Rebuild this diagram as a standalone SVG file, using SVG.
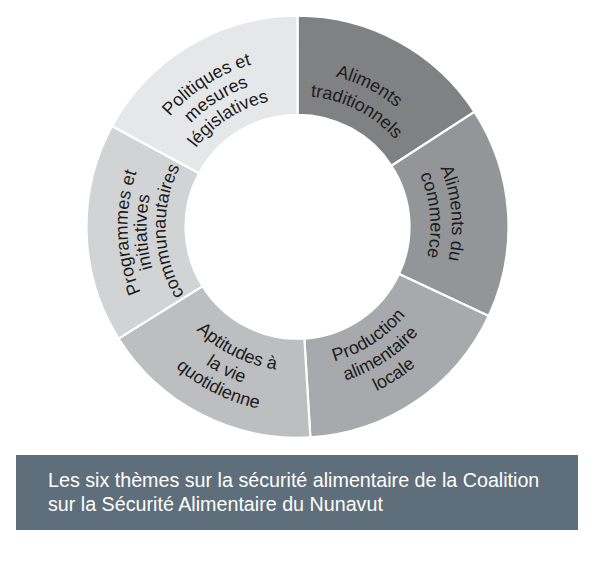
<svg xmlns="http://www.w3.org/2000/svg" xmlns:xlink="http://www.w3.org/1999/xlink" width="599" height="564" viewBox="0 0 599 564">
<style>
.seg{stroke:#ffffff;stroke-width:2.2;stroke-linejoin:miter}
.lbl{font-family:"Liberation Sans",Arial,sans-serif;font-size:18px;fill:#1c1c1c}
.cap{font-family:"Liberation Sans",Arial,sans-serif;font-size:19.7px;fill:#ffffff}
</style>
<defs>
<path id="o168" d="M-129.07,-108.31 A168.5 168.5 0 0 1 129.07,-108.31"/>
<path id="o148" d="M-113.75,-95.46 A148.5 148.5 0 0 1 113.75,-95.46"/>
<path id="o128" d="M-98.43,-82.60 A128.5 128.5 0 0 1 98.43,-82.60"/>
<path id="o155" d="M-118.73,-99.63 A155 155 0 0 1 118.73,-99.63"/>
<path id="o131" d="M-100.35,-84.21 A131 131 0 0 1 100.35,-84.21"/>
<path id="o154" d="M-118.35,-99.31 A154.5 154.5 0 0 1 118.35,-99.31"/>
<path id="o133" d="M-101.88,-85.49 A133 133 0 0 1 101.88,-85.49"/>
<path id="o170" d="M-130.22,-109.28 A170 170 0 0 1 130.22,-109.28"/>
<path id="o151" d="M-115.67,-97.06 A151 151 0 0 1 115.67,-97.06"/>
<path id="o132" d="M-101.11,-84.85 A132 132 0 0 1 101.11,-84.85"/>
<path id="i139" d="M-106.86,89.67 A139.5 139.5 0 0 0 106.86,89.67"/>
<path id="i161" d="M-123.33,103.49 A161 161 0 0 0 123.33,103.49"/>
<path id="i182" d="M-139.80,117.31 A182.5 182.5 0 0 0 139.80,117.31"/>
<path id="i144" d="M-110.69,92.88 A144.5 144.5 0 0 0 110.69,92.88"/>
<path id="i165" d="M-126.77,106.38 A165.5 165.5 0 0 0 126.77,106.38"/>
<path id="i186" d="M-142.48,119.56 A186 186 0 0 0 142.48,119.56"/>
</defs>
<rect width="599" height="564" fill="#ffffff"/>

<g id="aliments-traditionnels">
<path class="seg" fill="#808183" d="M297.5,15.75 A211 211 0 0 1 474.46,111.83 L391.43,165.75 A112 112 0 0 0 297.5,114.75 Z"/>
<text class="lbl" transform="translate(297.5,226.75) rotate(27)"><textPath xlink:href="#o155" href="#o155" startOffset="50%" text-anchor="middle">Aliments</textPath></text>
<text class="lbl" transform="translate(297.5,226.75) rotate(27)"><textPath xlink:href="#o131" href="#o131" startOffset="50%" text-anchor="middle">traditionnels</textPath></text>
</g>

<g id="aliments-du-commerce">
<path class="seg" fill="#939598" d="M474.46,111.83 A211 211 0 0 1 488.73,315.92 L399.01,274.08 A112 112 0 0 0 391.43,165.75 Z"/>
<text class="lbl" transform="translate(297.5,226.75) rotate(85)"><textPath xlink:href="#o154" href="#o154" startOffset="50%" text-anchor="middle">Aliments du</textPath></text>
<text class="lbl" transform="translate(297.5,226.75) rotate(85)"><textPath xlink:href="#o133" href="#o133" startOffset="50%" text-anchor="middle">commerce</textPath></text>
</g>

<g id="production-alimentaire-locale">
<path class="seg" fill="#a7a9ac" d="M488.73,315.92 A211 211 0 0 1 310.38,437.36 L304.34,338.54 A112 112 0 0 0 399.01,274.08 Z"/>
<text class="lbl" transform="translate(297.5,226.75) rotate(-33)"><textPath xlink:href="#i139" href="#i139" startOffset="50%" text-anchor="middle">Production</textPath></text>
<text class="lbl" transform="translate(297.5,226.75) rotate(-33)"><textPath xlink:href="#i161" href="#i161" startOffset="50%" text-anchor="middle">alimentaire</textPath></text>
<text class="lbl" transform="translate(297.5,226.75) rotate(-33)"><textPath xlink:href="#i182" href="#i182" startOffset="50%" text-anchor="middle">locale</textPath></text>
</g>

<g id="aptitudes-vie-quotidienne">
<path class="seg" fill="#bcbec0" d="M310.38,437.36 A211 211 0 0 1 118.56,338.56 L202.52,286.10 A112 112 0 0 0 304.34,338.54 Z"/>
<text class="lbl" transform="translate(297.5,226.75) rotate(26.5)"><textPath xlink:href="#i144" href="#i144" startOffset="50%" text-anchor="middle">Aptitudes à</textPath></text>
<text class="lbl" transform="translate(297.5,226.75) rotate(26.5)"><textPath xlink:href="#i165" href="#i165" startOffset="50%" text-anchor="middle">la vie</textPath></text>
<text class="lbl" transform="translate(297.5,226.75) rotate(26.5)"><textPath xlink:href="#i186" href="#i186" startOffset="50%" text-anchor="middle">quotidienne</textPath></text>
</g>

<g id="programmes-initiatives">
<path class="seg" fill="#d1d3d4" d="M118.56,338.56 A211 211 0 0 1 112.07,126.07 L199.07,173.31 A112 112 0 0 0 202.52,286.10 Z"/>
<text class="lbl" transform="translate(297.5,226.75) rotate(-92)"><textPath xlink:href="#o170" href="#o170" startOffset="50%" text-anchor="middle">Programmes et</textPath></text>
<text class="lbl" transform="translate(297.5,226.75) rotate(-92)"><textPath xlink:href="#o151" href="#o151" startOffset="50%" text-anchor="middle">initiatives</textPath></text>
<text class="lbl" transform="translate(297.5,226.75) rotate(-92)"><textPath xlink:href="#o132" href="#o132" startOffset="50%" text-anchor="middle">communautaires</textPath></text>
</g>

<g id="politiques-mesures">
<path class="seg" fill="#e6e7e8" d="M112.07,126.07 A211 211 0 0 1 297.5,15.75 L297.5,114.75 A112 112 0 0 0 199.07,173.31 Z"/>
<text class="lbl" transform="translate(297.5,226.75) rotate(-32.5)"><textPath xlink:href="#o168" href="#o168" startOffset="50%" text-anchor="middle">Politiques et</textPath></text>
<text class="lbl" transform="translate(297.5,226.75) rotate(-32.5)"><textPath xlink:href="#o148" href="#o148" startOffset="50%" text-anchor="middle">mesures</textPath></text>
<text class="lbl" transform="translate(297.5,226.75) rotate(-32.5)"><textPath xlink:href="#o128" href="#o128" startOffset="50%" text-anchor="middle">législatives</textPath></text>
</g>

<g id="connectors"></g>

<g id="caption">
<rect x="16" y="455" width="562" height="75" fill="#5e6e7a"/>
<text class="cap" x="48" y="487">Les six thèmes sur la sécurité alimentaire de la Coalition</text>
<text class="cap" x="48" y="511">sur la Sécurité Alimentaire du Nunavut</text>
</g>
</svg>
